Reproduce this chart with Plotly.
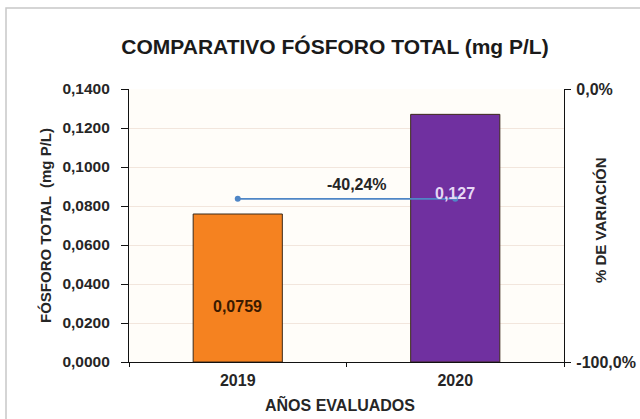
import plotly.graph_objects as go

# Data
years = ["2019", "2020"]
fosforo = [0.0759, 0.127]
variacion = [-40.24, -40.24]
bar_labels = ["0,0759", "0,127"]
var_label = "-40,24%"
bar_colors = ["#F58220", "#7030A0"]
label_colors = ["#3A1A00", "#E6D8F5"]
y_ticks = [0, 0.02, 0.04, 0.06, 0.08, 0.10, 0.12, 0.14]
y_ticktext = ["0,0000", "0,0200", "0,0400", "0,0600", "0,0800", "0,1000", "0,1200", "0,1400"]
y2_ticks = [-100, 0]
y2_ticktext = ["-100,0%", "0,0%"]

FONT = "Liberation Sans, Arial, sans-serif"
TXT = "#262626"

# Plot-area geometry (pixels)
W, H = 640, 419
ML, MR, MT, MB = 129, 76, 89, 57
PW, PH = W - ML - MR, H - MT - MB


def px_x(p):
    return (p - ML) / PW


def px_y(p):
    return (H - MB - p) / PH


fig = go.Figure()

fig.add_trace(go.Bar(
    x=years, y=fosforo,
    marker=dict(color=bar_colors, line=dict(color="#3B2A1A", width=1)),
    width=0.41,
    showlegend=False, hoverinfo="skip",
))

fig.add_trace(go.Scatter(
    x=years, y=variacion, yaxis="y2", mode="lines+markers",
    line=dict(color="#4F86C6", width=1.8),
    marker=dict(size=6, color="#4F86C6"),
    showlegend=False, hoverinfo="skip",
))

# Value labels for bars (category index positions)
fig.add_annotation(x=0, y=fosforo[0] * 0.5, yshift=-18, text="<b>%s</b>" % bar_labels[0],
                   showarrow=False, xanchor="center", yanchor="middle",
                   font=dict(family=FONT, size=16, color=label_colors[0]))
fig.add_annotation(x=1, y=fosforo[1], yshift=-79, text="<b>%s</b>" % bar_labels[1],
                   showarrow=False, xanchor="center", yanchor="middle",
                   font=dict(family=FONT, size=16, color=label_colors[1]))
# Variation label
fig.add_annotation(x=0.525, xref="paper", y=variacion[1], yref="y2", yshift=14,
                   text="<b>%s</b>" % var_label, showarrow=False,
                   xanchor="center", yanchor="middle",
                   font=dict(family=FONT, size=16, color=TXT))

# Axis titles
fig.add_annotation(x=px_x(45), y=px_y(226), xref="paper", yref="paper", textangle=-90,
                   text="<b>FÓSFORO TOTAL  (mg P/L)</b>", showarrow=False,
                   xanchor="center", yanchor="middle",
                   font=dict(family=FONT, size=15, color=TXT))
fig.add_annotation(x=px_x(600), y=px_y(220), xref="paper", yref="paper", textangle=-90,
                   text="<b>% DE VARIACIÓN</b>", showarrow=False,
                   xanchor="center", yanchor="middle",
                   font=dict(family=FONT, size=15, color=TXT))
fig.add_annotation(x=px_x(340), y=px_y(404), xref="paper", yref="paper",
                   text="<b>AÑOS EVALUADOS</b>", showarrow=False,
                   xanchor="center", yanchor="middle",
                   font=dict(family=FONT, size=16, color=TXT))

fig.update_layout(
    width=W, height=H,
    margin=dict(l=ML, r=MR, t=MT, b=MB, autoexpand=False),
    paper_bgcolor="white",
    plot_bgcolor="#FFFDF9",
    title=dict(text="<b>COMPARATIVO FÓSFORO TOTAL (mg P/L)</b>", x=335 / W, xanchor="center",
               y=1 - 47 / H, yanchor="middle", font=dict(family=FONT, size=21, color="#1A1A1A")),
    font=dict(family=FONT, color=TXT),
    xaxis=dict(
        type="category", categoryorder="array", categoryarray=years, range=[-0.5, 1.5],
        automargin=False,
        showline=True, linecolor="#111111", linewidth=1.2,
        ticks="outside", tickson="boundaries", ticklen=4, tickcolor="#111111",
        ticklabelstandoff=4,
        tickfont=dict(family=FONT, size=16, color=TXT),
        tickvals=years, ticktext=["<b>%s</b>" % y for y in years], tickangle=0,
        showgrid=False,
    ),
    yaxis=dict(
        range=[0, 0.14], tickvals=y_ticks, ticktext=["<b>%s</b>" % t for t in y_ticktext],
        automargin=False,
        showline=True, linecolor="#111111", linewidth=1.2,
        ticks="outside", ticklen=7, tickcolor="#111111", ticklabelstandoff=8,
        tickfont=dict(family=FONT, size=15.5, color=TXT),
        showgrid=True, gridcolor="#F2E6DD", gridwidth=1, zeroline=False,
    ),
    yaxis2=dict(
        overlaying="y", side="right", range=[-100, 0], automargin=False,
        tickvals=y2_ticks, ticktext=["<b>%s</b>" % t for t in y2_ticktext],
        showline=True, linecolor="#111111", linewidth=1.2,
        ticks="outside", ticklen=6, tickcolor="#111111", ticklabelstandoff=2,
        tickfont=dict(family=FONT, size=16, color=TXT),
        showgrid=False, zeroline=False,
    ),
)

# Chart frame
fig.add_shape(type="rect", xref="paper", yref="paper",
              x0=px_x(6), x1=px_x(642),
              y0=px_y(421), y1=px_y(8),
              line=dict(color="#C8C8C8", width=1.5), fillcolor="rgba(0,0,0,0)", layer="below")

fig.write_html("out.html")
